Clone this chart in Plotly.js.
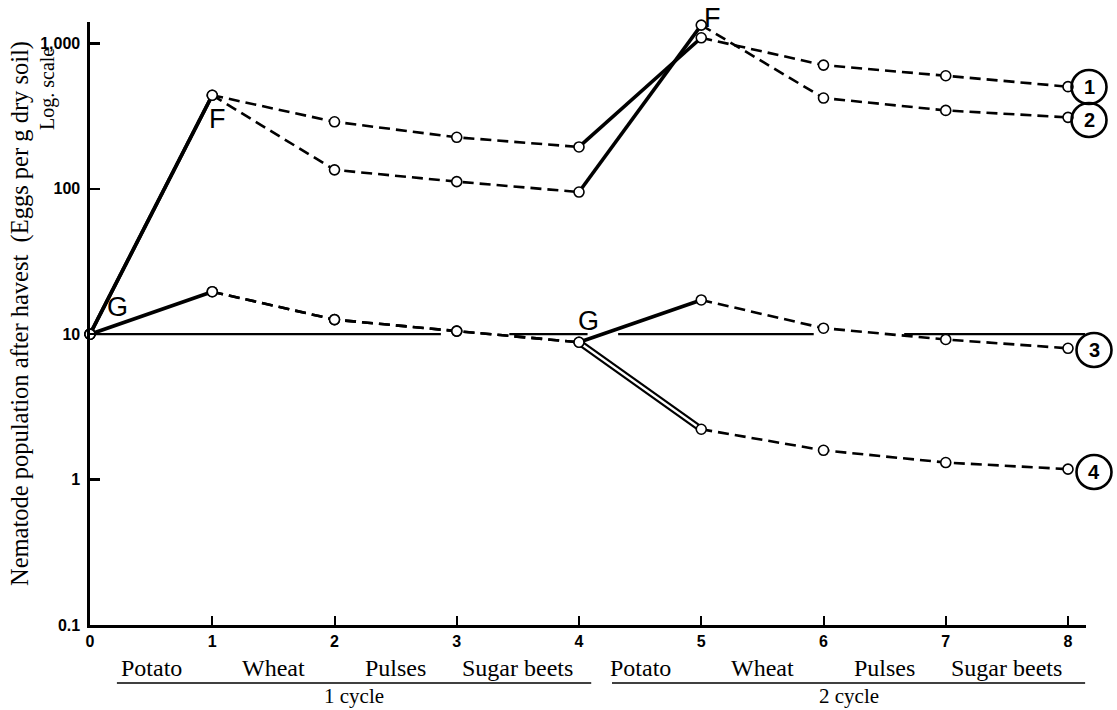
<!DOCTYPE html>
<html>
<head>
<meta charset="utf-8">
<script src="https://cdn.plot.ly/plotly-3.0.1.min.js"></script>
<style>html,body{margin:0;padding:0;background:#fff;}#chart{width:1117px;height:710px;}</style>
</head>
<body>
<div id="chart"></div>
<script>
// ---- data ----
const years = [0, 1, 2, 3, 4, 5, 6, 7, 8];
const series1 = [10, 440, 289, 226, 194, 1093, 709, 599, 504];
const series2 = [10, 440, 135, 112, 95, 1336, 421, 346, 310];
const series3 = [10, 19.6, 12.6, 10.5, 8.8, 17.2, 11.0, 9.2, 8.0];
const series4 = [10, 19.6, 12.6, 10.5, 8.8, 2.22, 1.59, 1.31, 1.18];
const seriesLabels = ['1', '2', '3', '4'];
const crops = ['Potato', 'Wheat', 'Pulses', 'Sugar beets', 'Potato', 'Wheat', 'Pulses', 'Sugar beets'];
const cycles = ['1 cycle', '2 cycle'];
const yTickVals = [0.1, 1, 10, 100, 1000];
const yTickText = ['0.1', '1', '10', '100', '1,000'];
const refLevel = 10;
const refSegments = [[0, 2.87], [3.43, 4.07], [4.32, 5.92], [6.66, 8.14]];
const solidPhases = [[0, 1], [4, 5]];
const dashedPhases = [[1, 4], [5, 8]];

// ---- layout geometry ----
const L = 90, T = 22, W = 996, H = 603;
const pxX = p => (p - L) / W;
const pxY = p => (T + H - p) / H;
const serif = 'Liberation Serif, Times New Roman, serif';
const sans = 'Liberation Sans, Arial, sans-serif';

function seg(arr, a, b) {
  return { x: years.slice(a, b + 1), y: arr.slice(a, b + 1) };
}

const traces = [];
refSegments.forEach(s => traces.push({
  x: s, y: [refLevel, refLevel], mode: 'lines', type: 'scatter',
  line: { color: '#000', width: 2.2 }, hoverinfo: 'skip', showlegend: false
}));

const all = [series1, series2, series3, series4];
all.forEach(arr => dashedPhases.forEach(p => {
  const s = seg(arr, p[0], p[1]);
  traces.push({ x: s.x, y: s.y, mode: 'lines', type: 'scatter',
    line: { color: '#000', width: 2.6, dash: '11px,6px' }, showlegend: false, hoverinfo: 'skip' });
}));
[series1, series2, series3].forEach(arr => solidPhases.forEach(p => {
  const s = seg(arr, p[0], p[1]);
  traces.push({ x: s.x, y: s.y, mode: 'lines', type: 'scatter',
    line: { color: '#000', width: 3.6 }, showlegend: false, hoverinfo: 'skip' });
}));
{
  const s = seg(series4, 4, 5);
  traces.push({ x: s.x, y: s.y, mode: 'lines', type: 'scatter',
    line: { color: '#000', width: 6.5 }, showlegend: false, hoverinfo: 'skip' });
  traces.push({ x: s.x, y: s.y, mode: 'lines', type: 'scatter',
    line: { color: '#fff', width: 2.2 }, showlegend: false, hoverinfo: 'skip' });
}
all.forEach(arr => traces.push({
  x: years, y: arr, mode: 'markers', type: 'scatter',
  marker: { symbol: 'circle', size: 10, color: '#fff', line: { color: '#000', width: 1.6 } },
  showlegend: false, hoverinfo: 'skip', cliponaxis: false
}));

const annotations = [];
annotations.push({ xref: 'paper', yref: 'paper', x: 0, y: pxY(314), xshift: -70,
  xanchor: 'center', yanchor: 'middle', textangle: -90, showarrow: false,
  text: 'Nematode population after havest\u00a0\u00a0(Eggs per g dry soil)',
  font: { family: serif, size: 24.5, color: '#000' } });
annotations.push({ xref: 'paper', yref: 'paper', x: 0, y: pxY(89), xshift: -43,
  xanchor: 'center', yanchor: 'middle', textangle: -90, showarrow: false,
  text: 'Log. scale', font: { family: serif, size: 20, color: '#000' } });
crops.forEach((c, i) => annotations.push({ xref: 'x', yref: 'paper', x: i + 0.5, y: pxY(668),
  xanchor: 'center', yanchor: 'middle', showarrow: false, text: c,
  font: { family: serif, size: 24, color: '#000' } }));
const cycleSpans = [[0.22, 4.10], [4.27, 8.14]];
cycles.forEach((c, i) => annotations.push({ xref: 'x', yref: 'paper',
  x: (cycleSpans[i][0] + cycleSpans[i][1]) / 2, y: pxY(696),
  xanchor: 'center', yanchor: 'middle', showarrow: false, text: c,
  font: { family: serif, size: 21, color: '#000' } }));
[['G', 117, 307], ['F', 217, 119], ['G', 588, 321], ['F', 712, 18]].forEach(g =>
  annotations.push({ xref: 'paper', yref: 'paper', x: pxX(g[1]), y: pxY(g[2]),
    xanchor: 'center', yanchor: 'middle', showarrow: false, text: g[0],
    font: { family: sans, size: 27, color: '#000' } }));
const circlePos = [[1089, 87], [1089, 120], [1094, 350], [1094, 472]];
const shapes = [];
seriesLabels.forEach((s, i) => {
  const c = circlePos[i];
  annotations.push({ xref: 'paper', yref: 'paper', x: pxX(c[0]), y: pxY(c[1]),
    xanchor: 'center', yanchor: 'middle', showarrow: false, text: s,
    font: { family: sans, size: 20, color: '#000', weight: 'bold' } });
  shapes.push({ type: 'circle', xref: 'paper', yref: 'paper',
    x0: pxX(c[0] - 17.5), x1: pxX(c[0] + 17.5), y0: pxY(c[1] + 17), y1: pxY(c[1] - 17),
    line: { color: '#000', width: 2.6 } });
});
cycleSpans.forEach(sp => shapes.push({ type: 'line', xref: 'x', yref: 'paper',
  x0: sp[0], x1: sp[1], y0: pxY(683), y1: pxY(683), line: { color: '#000', width: 1.4 } }));

const layout = {
  width: 1117, height: 710,
  margin: { l: L, r: 1117 - L - W, t: T, b: 710 - T - H, pad: 0 },
  paper_bgcolor: '#fff', plot_bgcolor: '#fff',
  showlegend: false,
  xaxis: {
    range: [0, W / 122.25], showgrid: false, zeroline: false,
    showline: true, linecolor: '#000', linewidth: 2.6,
    tickmode: 'array', tickvals: years, ticktext: years.map(String),
    ticks: 'inside', ticklen: 9, tickwidth: 2, tickcolor: '#000',
    tickfont: { family: sans, size: 16, color: '#000', weight: 'bold' }
  },
  yaxis: {
    type: 'log', range: [-1, -1 + H / 145.4], showgrid: false, zeroline: false,
    showline: true, linecolor: '#000', linewidth: 2.6,
    tickmode: 'array', tickvals: yTickVals, ticktext: yTickText,
    ticks: 'inside', ticklen: 10, tickwidth: 2.5, tickcolor: '#000',
    ticklabelstandoff: 4,
    tickfont: { family: sans, size: 16, color: '#000', weight: 'bold' }
  },
  annotations: annotations,
  shapes: shapes
};

Plotly.newPlot('chart', traces, layout, { staticPlot: true, displayModeBar: false });
</script>
</body>
</html>
